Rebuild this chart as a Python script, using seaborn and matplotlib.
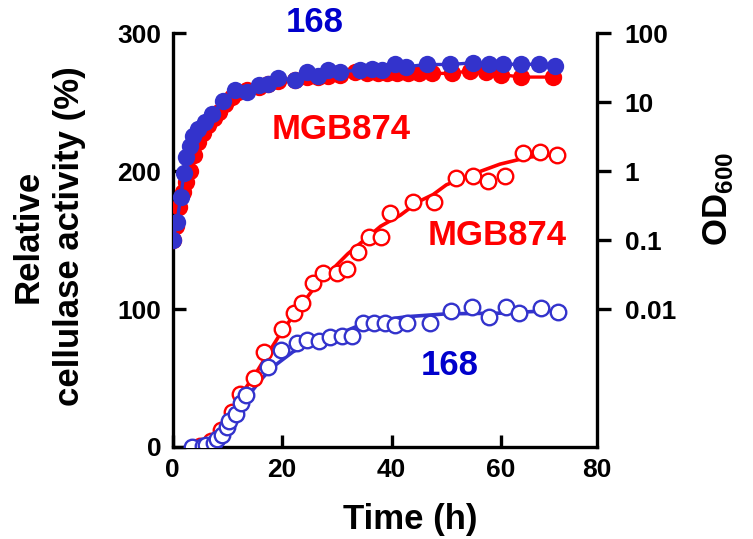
import matplotlib
matplotlib.use("Agg")
import matplotlib.pyplot as plt
import seaborn as sns

# ---------------- data ----------------
# Growth (OD600, right log axis) - filled circles
time_od_168 = [0.0, 0.8, 1.5, 2.1, 2.5, 3.2, 3.8, 4.7, 6.0, 7.2, 9.3, 11.4, 13.6, 15.7,
               17.5, 19.3, 22.4, 24.5, 26.6, 28.4, 30.6, 34.2, 36.4, 38.2, 40.6, 42.6,
               46.4, 50.7, 54.8, 57.7, 60.4, 63.7, 67.0, 69.9]
od_168 = [0.10, 0.18, 0.42, 0.95, 1.6, 2.3, 3.2, 4.0, 5.2, 6.6, 10.5, 15.0, 14.0, 17.4,
          18.2, 22.0, 21.0, 27.5, 24.0, 29.0, 27.5, 29.0, 30.0, 29.0, 35.0, 32.5,
          35.0, 35.0, 37.0, 35.5, 35.0, 35.5, 35.0, 33.0]
time_od_mgb = [0.0, 0.6, 1.2, 1.9, 2.5, 3.2, 3.9, 4.7, 5.6, 6.5, 7.5, 8.5, 9.6, 10.8,
               12.0, 13.6, 15.7, 17.5, 19.3, 22.4, 24.5, 26.6, 28.4, 30.6, 33.3, 35.5,
               37.5, 39.1, 41.0, 43.0, 45.0, 47.3, 51.0, 54.3, 57.2, 60.0, 63.6, 69.5]
od_mgb = [0.10, 0.16, 0.30, 0.50, 0.69, 1.0, 1.7, 2.6, 3.6, 4.6, 5.8, 7.2, 9.5, 12.0,
          13.8, 15.0, 16.6, 18.2, 20.0, 21.0, 23.0, 23.0, 24.0, 25.0, 27.5, 26.0,
          26.0, 26.0, 26.0, 26.0, 26.0, 26.0, 26.0, 28.4, 27.5, 25.0, 23.0, 23.0]

# Relative cellulase activity (%) - open circles
time_act_168 = [3.5, 5.5, 6.2, 7.5, 8.2, 9.0, 9.9, 10.3, 11.6, 12.5, 13.4, 17.5, 19.8,
                22.7, 24.5, 26.8, 28.8, 30.9, 32.7, 34.8, 36.7, 38.8, 40.6, 42.8, 47.0,
                50.8, 54.6, 57.7, 60.9, 63.3, 67.3, 70.4]
act_168 = [0.0, 0.7, 1.4, 2.7, 5.6, 8.7, 14.7, 19.0, 23.9, 32.1, 37.7, 57.8, 70.3,
           75.6, 77.5, 77.0, 79.9, 80.4, 80.4, 89.6, 90.0, 89.6, 88.4, 90.0, 89.6,
           98.6, 101.2, 94.0, 101.2, 96.9, 100.5, 98.0]
time_act_mgb = [5.0, 7.0, 8.8, 10.8, 12.3, 14.9, 16.7, 19.9, 22.1, 23.6, 25.7, 27.5,
                30.0, 31.8, 33.9, 35.9, 38.0, 39.7, 43.9, 47.8, 51.8, 54.8, 57.6, 60.7,
                64.0, 67.1, 70.2]
act_mgb = [1.0, 4.0, 12.0, 25.0, 38.4, 49.8, 69.1, 85.3, 96.9, 104.3, 118.8, 125.9,
           126.3, 128.8, 141.5, 152.0, 152.0, 169.8, 177.8, 177.8, 195.3, 196.4, 193.0,
           196.4, 213.3, 214.0, 211.6]

# Trend curves (as drawn in the reference)
fit_time_168 = [4, 7, 9, 11, 12, 14, 16, 18, 20, 22, 25, 28, 31, 34, 38, 43, 50, 60, 70]
fit_act_168 = [0, 3, 10, 19, 26, 38, 48, 57, 63, 69, 75, 78, 83, 88, 92, 94.5, 96.5, 97, 99]
fit_time_mgb = [6, 8, 9.5, 11, 12.5, 15, 17, 20, 23, 26, 29, 32, 35, 38, 41.6, 45, 47.6,
                50, 55, 59.8, 65, 70]
fit_act_mgb = [0, 8, 18, 28, 38, 52, 65, 84, 100, 116, 128, 140, 150, 160, 168, 178, 183,
               190, 198, 205, 210, 212]

x_ticks = [0, 20, 40, 60, 77.5]
x_tick_labels = ["0", "20", "40", "60", "80"]
y_ticks = [0, 100, 200, 300]
od_ticks = [0.01, 0.1, 1, 10, 100]
od_tick_labels = ["0.01", "0.1", "1", "10", "100"]

RED = "#FF0000"
BLUE = "#3333CC"
TXT_BLUE = "#0000CC"

# ---------------- style ----------------
sns.set_theme(style="white")
plt.rcParams["font.family"] = ["Liberation Sans", "DejaVu Sans"]
plt.rcParams["font.weight"] = "bold"
plt.rcParams["axes.labelweight"] = "bold"
plt.rcParams["text.color"] = "black"
plt.rcParams["axes.labelcolor"] = "black"
plt.rcParams["xtick.color"] = "black"
plt.rcParams["ytick.color"] = "black"
plt.rcParams["mathtext.fontset"] = "custom"
plt.rcParams["mathtext.rm"] = "Liberation Sans:bold"
plt.rcParams["mathtext.bf"] = "Liberation Sans:bold"

fig = plt.figure(figsize=(7.53, 5.39), dpi=100)
ax = fig.add_axes([0.2291, 0.1707, 0.5637, 0.768])
ax2 = ax.twinx()

# ---------------- cellulase activity (left axis) ----------------
sns.lineplot(x=fit_time_mgb, y=fit_act_mgb, ax=ax, color=RED, lw=2.6, sort=False,
             estimator=None, zorder=2)
sns.lineplot(x=fit_time_168, y=fit_act_168, ax=ax, color=BLUE, lw=2.6, sort=False,
             estimator=None, zorder=2)
sns.scatterplot(x=time_act_mgb, y=act_mgb, ax=ax, marker="o", s=125, facecolor="white",
                edgecolor=RED, linewidth=1.7, zorder=3)
sns.scatterplot(x=time_act_168, y=act_168, ax=ax, marker="o", s=125, facecolor="white",
                edgecolor=BLUE, linewidth=1.7, zorder=4)

# ---------------- growth OD600 (right log axis) ----------------
ax2.set_yscale("log")
sns.lineplot(x=time_od_mgb, y=od_mgb, ax=ax2, color=RED, lw=2.4, sort=False,
             estimator=None, marker="o", markersize=12.5, markeredgewidth=0,
             markerfacecolor=RED, zorder=3)
sns.lineplot(x=time_od_168, y=od_168, ax=ax2, color=BLUE, lw=2.4, sort=False,
             estimator=None, marker="o", markersize=12.5, markeredgewidth=0,
             markerfacecolor=BLUE, zorder=4)

# ---------------- axes ----------------
ax.set_xlim(0, 77.5)
ax.set_ylim(0, 300)
ax2.set_ylim(1e-4, 1e2)

ax.set_xticks(x_ticks)
ax.set_xticklabels(x_tick_labels)
ax.set_yticks(y_ticks)
ax.set_yticklabels([str(v) for v in y_ticks])
ax2.set_yticks(od_ticks)
ax2.set_yticklabels(od_tick_labels)
ax2.yaxis.set_minor_locator(matplotlib.ticker.NullLocator())

for a in (ax, ax2):
    for s in a.spines.values():
        s.set_linewidth(2.4)
        s.set_color("black")
    a.spines["top"].set_visible(False)
ax.spines["right"].set_visible(False)
ax2.spines["left"].set_visible(False)
ax2.spines["bottom"].set_visible(False)

ax.tick_params(axis="y", direction="in", length=9, width=2.4, labelsize=19, pad=8,
               left=True, colors="black")
ax.tick_params(axis="x", direction="in", length=9, width=2.4, labelsize=19, pad=8,
               bottom=True, colors="black")
ax.xaxis.get_major_ticks()[-1].tick1line.set_visible(False)
ax2.tick_params(axis="y", direction="out", length=10, width=2.4, labelsize=19, pad=10,
                right=True, colors="black")
for lab in ax.get_xticklabels() + ax.get_yticklabels() + ax2.get_yticklabels():
    lab.set_fontweight("bold")

ax.set_xlabel("Time (h)", fontsize=25, fontweight="bold", color="black")
ax.xaxis.set_label_coords(0.56, -0.135)
ax.set_ylabel("Relative\ncellulase activity (%)", fontsize=25, fontweight="bold",
              linespacing=1.35, color="black")
ax.yaxis.set_label_coords(-0.203, 0.51)
ax2.set_ylabel(r"OD$_{600}$", fontsize=25, fontweight="bold", color="black")
ax2.yaxis.set_label_coords(1.245, 0.6)

# ---------------- annotations ----------------
ax.text(26.0, 308, "168", color=TXT_BLUE, fontsize=25, fontweight="bold",
        ha="center", va="center", clip_on=False)
ax.text(30.8, 230, "MGB874", color=RED, fontsize=25, fontweight="bold",
        ha="center", va="center")
ax.text(59.3, 153, "MGB874", color=RED, fontsize=25, fontweight="bold",
        ha="center", va="center")
ax.text(50.7, 59, "168", color=TXT_BLUE, fontsize=25, fontweight="bold",
        ha="center", va="center")

for a in (ax, ax2):
    leg = a.get_legend()
    if leg is not None:
        leg.remove()

fig.savefig("out.png", dpi=100)
